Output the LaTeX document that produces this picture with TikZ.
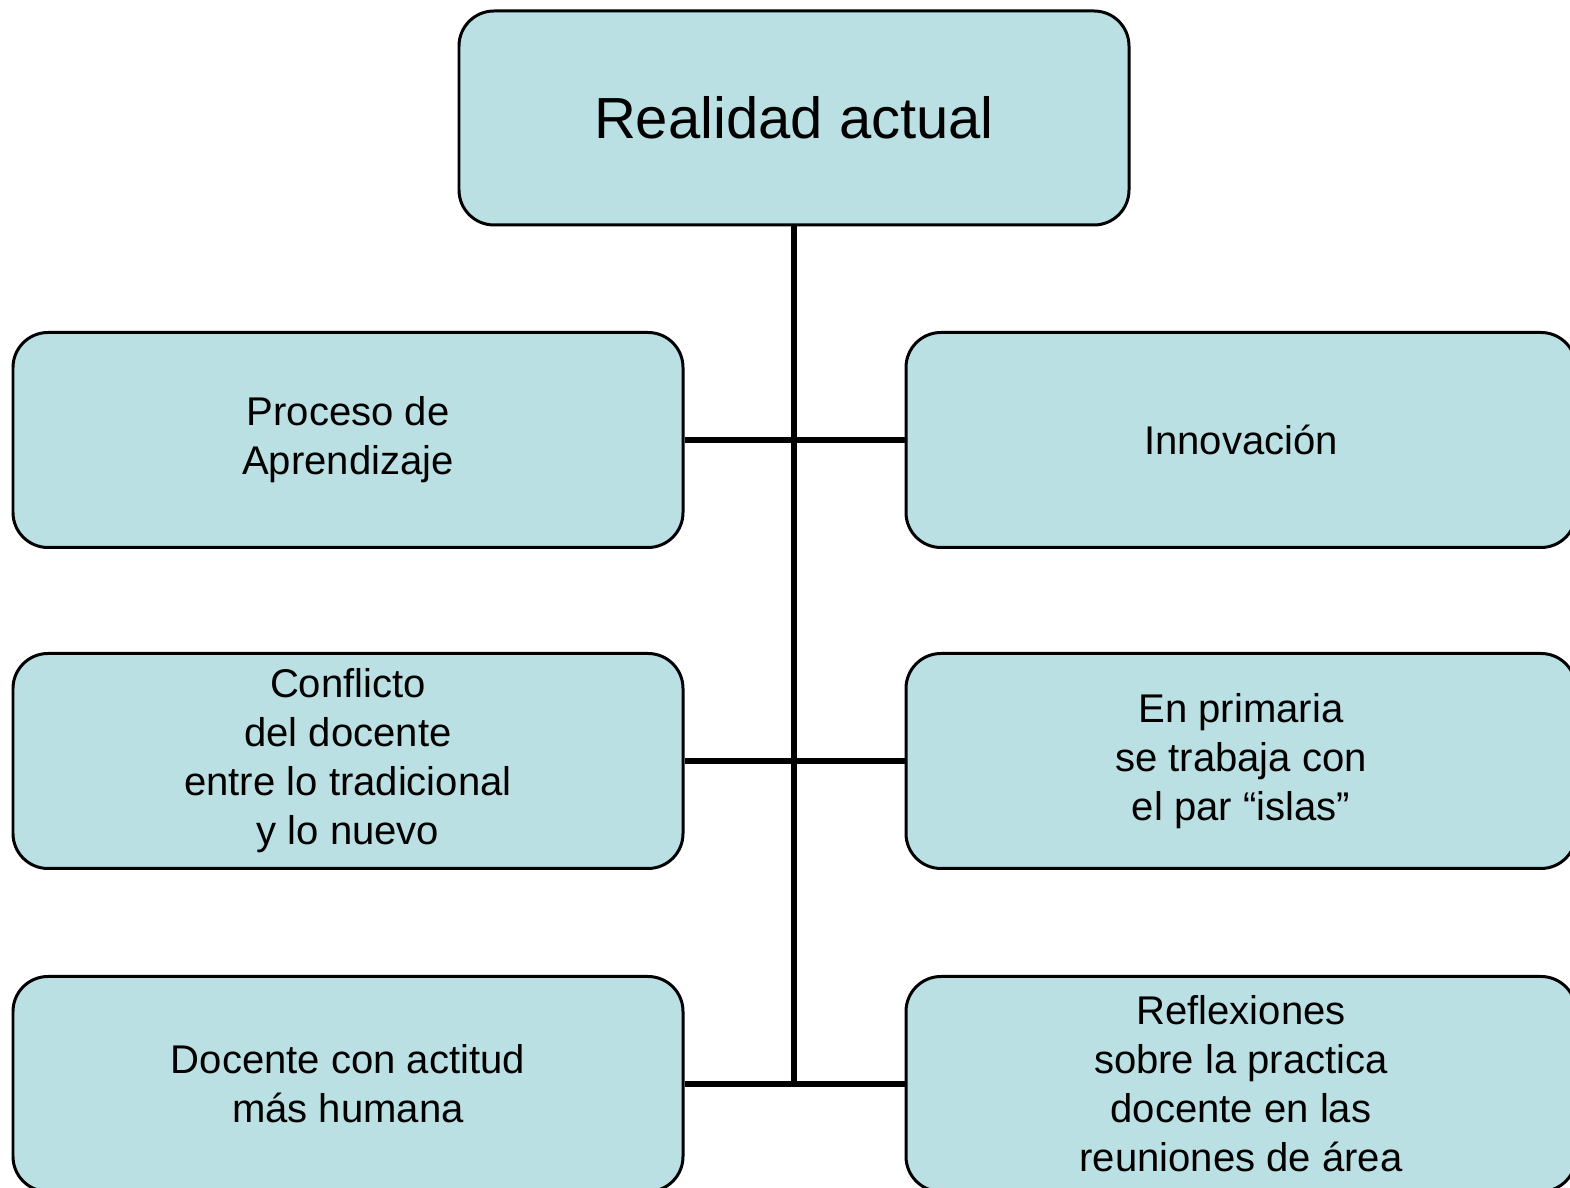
\documentclass[tikz,border=0pt]{standalone}
\usepackage{fontspec}
\setmainfont{Liberation Sans}
\usepackage{tikz}
\usetikzlibrary{positioning, calc}

\definecolor{boxblue}{HTML}{BBE0E3}

\begin{document}
\begin{tikzpicture}[
    every node/.style={font=\fontsize{22.8}{27.9}\selectfont, align=center},
    box/.style={rectangle, rounded corners=0.7cm, draw=black, line width=1.7pt, fill=boxblue,
                minimum width=13.4cm, minimum height=4.3cm, inner sep=0pt},
    link/.style={draw, line width=3.4pt}
  ]
  \useasboundingbox (0,0) rectangle (31.4,23.76);

  % Top node and the two columns below it
  \node[box, minimum height=4.28cm, font=\fontsize{33}{40}\selectfont] (top) at (15.88,21.4) {Realidad actual};

  \node[box] (l1) at (6.96,14.96) {Proceso de\\Aprendizaje};
  \node[box] (l2) at (6.96,8.54) {Conflicto\\del docente\\entre lo tradicional\\y lo nuevo};
  \node[box] (l3) at (6.96,2.08) {Docente con actitud\\más humana};

  \node[box] (r1) at (24.82,14.96) {Innovación};
  \node[box] (r2) at (24.82,8.54) {En primaria\\se trabaja con\\el par “islas”};
  \node[box] (r3) at (24.82,2.08) {Reflexiones\\sobre la practica\\docente en las\\reuniones de área};

  % Trunk and branches
  \draw[link] (top.south) -- (top.south |- l3.east);
  \draw[link] (l1.east) -- (r1.west);
  \draw[link] (l2.east) -- (r2.west);
  \draw[link] (l3.east) -- (r3.west);
\end{tikzpicture}
\end{document}
